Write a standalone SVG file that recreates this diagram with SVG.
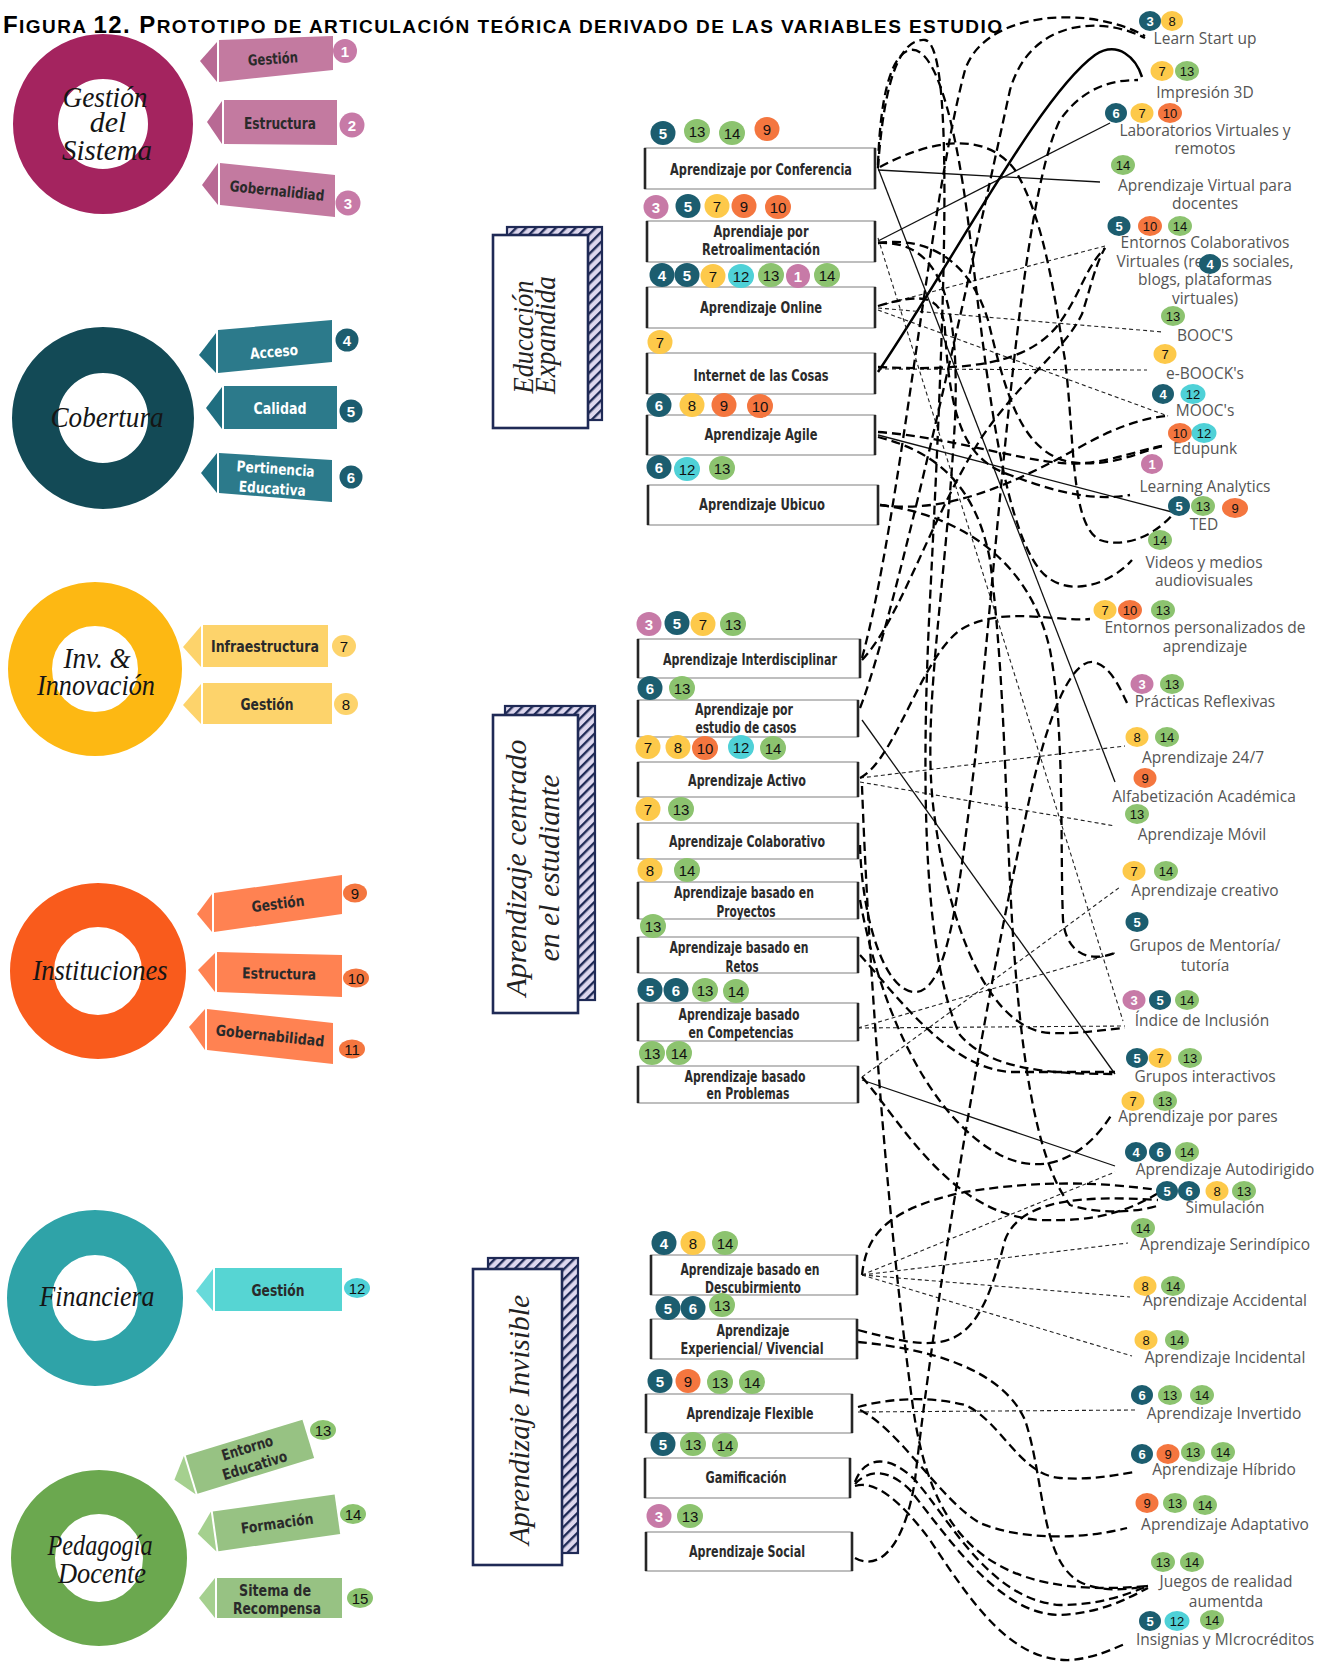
<svg xmlns="http://www.w3.org/2000/svg" width="1338" height="1665" viewBox="0 0 1338 1665">
<defs>
<pattern id="hatch" patternUnits="userSpaceOnUse" width="7" height="7" patternTransform="rotate(45)"><rect width="7" height="7" fill="#DDD7EE"/><rect width="2.4" height="7" fill="#1F2A56"/></pattern>
<style>
.title{font-family:"Liberation Sans",Arial,sans-serif;font-weight:bold;fill:#000}
.rt{font-family:"Liberation Serif","DejaVu Serif",serif;font-style:italic;font-size:30px;fill:#151515;text-anchor:middle}
.rb{font-family:"DejaVu Sans Condensed","DejaVu Sans",sans-serif;font-weight:bold;font-size:15px;fill:#2a2a2a;text-anchor:middle}
.rw{fill:#fff}
.bx{fill:#fff;stroke:#a9a9a9;stroke-width:1.5}
.be{stroke:#262626;stroke-width:2.6}
.bt{font-family:"DejaVu Sans Condensed","DejaVu Sans",sans-serif;font-weight:bold;font-size:15px;fill:#2b2b2b;text-anchor:middle}
.bk{font-family:"Liberation Serif","DejaVu Serif",serif;font-style:italic;font-size:30px;fill:#222;text-anchor:middle}
.lb{font-family:"Open Sans","DejaVu Sans",sans-serif;font-size:15.5px;fill:#555;text-anchor:middle}
.n text{font-family:"Liberation Sans",Arial,sans-serif;font-size:15px;text-anchor:middle;dominant-baseline:central}
.m text{font-size:13px}
.m ellipse{ry:10px}
.p{fill:#C77AA7}.t{fill:#1C5D6F}.y{fill:#FDC94A}.o{fill:#F4763F}.c{fill:#4FD1D7}.g{fill:#8CC36F}
.w{fill:#fff;font-weight:bold}.k{fill:#111}
.cs{fill:none;stroke:#111;stroke-width:1.3}
.ct{fill:none;stroke:#000;stroke-width:2.5}
.cd{fill:none;stroke:#000;stroke-width:2.3;stroke-dasharray:9 5}
.cf{fill:none;stroke:#222;stroke-width:1.1;stroke-dasharray:4 3}
.sh{stroke:#1F2A56;stroke-width:2.2}
</style>
</defs>
<rect width="1338" height="1665" fill="#fff"/>

<text class="title" x="3" y="33" font-size="19" textLength="999" lengthAdjust="spacing"><tspan font-size="24">F</tspan>IGURA <tspan font-size="24">12. P</tspan>ROTOTIPO DE ARTICULACIÓN TEÓRICA DERIVADO DE LAS VARIABLES ESTUDIO</text>

<g id="connectors">
<path class="cs" d="M878,170 L1100,182"/>
<path class="cs" d="M878,168 L1115,782"/>
<path class="cs" d="M878,241 L1110,123"/>
<path class="cs" d="M878,435 L1172,512"/>
<path class="cs" d="M862,720 L1115,1074"/>
<path class="cs" d="M862,1080 L1115,1166"/>
<path class="ct" d="M878,372 C960,250 1040,95 1095,55 C1118,40 1136,58 1142,77"/>
<path class="cf" d="M878,238 L1123,1021"/>
<path class="cf" d="M878,306 L1105,246"/>
<path class="cf" d="M878,308 L1163,332"/>
<path class="cf" d="M878,310 L1168,416"/>
<path class="cf" d="M878,369 L1147,370"/>
<path class="cf" d="M860,778 L1125,746"/>
<path class="cf" d="M860,782 L1115,826"/>
<path class="cf" d="M858,1028 L1125,1026"/>
<path class="cf" d="M858,1028 L1115,953"/>
<path class="cf" d="M862,1077 L1120,887"/>
<path class="cf" d="M862,1275 L1128,1243"/>
<path class="cf" d="M862,1275 L1130,1297"/>
<path class="cf" d="M862,1275 L1132,1356"/>
<path class="cf" d="M862,1275 L1115,1172"/>
<path class="cf" d="M858,1412 L1137,1410"/>
<path class="cd" d="M878,367 C980,372 1030,360 1058,325 C1080,296 1085,268 1105,248"/>
<path class="cd" d="M878,432 C960,438 1040,468 1085,463 C1115,460 1140,450 1162,446"/>
<path class="cd" d="M880,505 C950,515 1020,480 1080,447 C1110,430 1140,418 1167,416"/>
<path class="cd" d="M878,243 C930,236 970,262 988,320 C1005,390 1020,452 1070,462 C1110,468 1140,452 1162,446"/>
<path class="cd" d="M878,306 C925,292 942,296 945,330 C950,420 965,460 1010,475 C1050,490 1090,502 1130,495"/>
<path class="cd" d="M880,167 C930,140 985,130 1015,170 C1045,220 1055,300 1065,360 C1075,440 1070,525 1100,540 C1130,550 1160,530 1173,514"/>
<path class="cd" d="M878,165 C880,100 890,55 910,50 C935,45 955,120 968,220 C985,360 1000,520 1040,570 C1065,600 1110,585 1132,560"/>
<path class="cd" d="M862,658 C900,520 930,200 965,70 C985,10 1090,5 1145,36"/>
<path class="cd" d="M860,708 C895,620 975,250 1010,90 C1030,20 1100,15 1145,38"/>
<path class="cd" d="M860,845 C862,920 885,992 915,992 C950,992 960,880 975,760 C1000,520 1020,200 1060,120 C1085,85 1115,80 1138,80"/>
<path class="cd" d="M862,786 C868,950 885,1200 912,1400 C930,1540 990,1600 1148,1586"/>
<path class="cd" d="M860,778 C895,760 920,660 960,630 C1000,605 1055,622 1090,619"/>
<path class="cd" d="M862,660 C900,620 930,520 980,440 C1020,380 1065,350 1082,314 C1090,290 1095,265 1105,248"/>
<path class="cd" d="M860,900 C878,1000 925,1115 1000,1155 C1050,1180 1090,1150 1112,1114"/>
<path class="cd" d="M860,955 C900,1000 950,1068 1010,1072 L1115,1072"/>
<path class="cd" d="M862,1275 C866,1240 880,1210 965,1192 C1040,1180 1100,1182 1158,1190"/>
<path class="cd" d="M858,1330 C890,1338 915,1346 940,1342 C975,1336 990,1300 1005,1240 C1020,1200 1080,1195 1158,1200"/>
<path class="cd" d="M858,1342 C920,1348 1000,1365 1025,1420 C1045,1480 1040,1560 1080,1582 C1100,1592 1125,1590 1148,1586"/>
<path class="cd" d="M858,1407 C890,1398 930,1396 965,1405 C1000,1420 1020,1475 1060,1478 C1090,1480 1110,1476 1135,1472"/>
<path class="cd" d="M860,1410 C900,1430 940,1500 980,1523 C1020,1540 1080,1540 1127,1528"/>
<path class="cd" d="M855,1482 C865,1455 890,1455 915,1480 C950,1520 990,1600 1060,1605 C1100,1605 1125,1595 1148,1586"/>
<path class="cd" d="M855,1484 C870,1468 890,1470 910,1490 C950,1540 1000,1615 1060,1615 C1100,1613 1125,1600 1148,1588"/>
<path class="cd" d="M855,1486 C875,1480 900,1500 930,1540 C970,1600 1010,1662 1070,1660 C1095,1658 1110,1650 1127,1643"/>
<path class="cd" d="M855,1558 C880,1572 905,1545 915,1480 C935,1300 985,1000 1025,820 C1045,720 1070,660 1093,662 C1110,665 1120,688 1127,703"/>
<path class="cd" d="M878,168 C884,80 900,38 925,40 C955,45 945,300 930,600 C920,800 925,960 960,1035 C990,1070 1050,1074 1115,1074"/>
<path class="cd" d="M878,243 C940,240 960,300 955,420 C945,600 920,720 935,820 C950,930 990,1030 1050,1033 C1080,1034 1100,1030 1125,1028"/>
<path class="cd" d="M878,437 C930,450 975,480 990,560 C1005,680 1005,800 1012,920 C1020,1050 1035,1160 1070,1205 C1100,1215 1140,1212 1160,1205"/>
<path class="cd" d="M880,505 C960,515 1030,560 1050,650 C1065,730 1060,850 1063,920 C1066,950 1085,964 1115,953"/>
<path class="cd" d="M862,1077 C900,1120 950,1215 1040,1220 C1100,1222 1130,1210 1160,1192"/>
</g>

<g id="gestion-sistema">
<circle cx="103" cy="124" r="67.5" fill="none" stroke="#A4245F" stroke-width="45"/>
<text class="rt" x="105" y="107" textLength="85" lengthAdjust="spacingAndGlyphs">Gestión</text>
<text class="rt" x="108" y="132">del</text>
<text class="rt" x="107" y="160" textLength="90" lengthAdjust="spacingAndGlyphs">Sistema</text>
<g id="gs-gestion"><polygon points="200,61 217,42 217,82" fill="#B86994"/><polygon points="219,40 333,36 333,70 219,82" fill="#C37AA0"/><text class="rb" x="273" y="64" transform="rotate(-4 273 60)" textLength="50" lengthAdjust="spacingAndGlyphs">Gestión</text></g>
<g id="gs-estructura"><polygon points="207,122 222,101 222,144" fill="#B86994"/><polygon points="224,100 337,100 337,145 224,144" fill="#C37AA0"/><text class="rb" x="280" y="129" textLength="72" lengthAdjust="spacingAndGlyphs">Estructura</text></g>
<g id="gs-gobernalidiad"><polygon points="202,185 218,163 218,205" fill="#B86994"/><polygon points="220,163 335,175 335,217 220,205" fill="#C37AA0"/><text class="rb" x="277" y="196" transform="rotate(6 277 191)" textLength="95" lengthAdjust="spacingAndGlyphs">Gobernalidiad</text></g>
<g class="n"><circle class="p" cx="345" cy="51" r="12"/><text class="w" x="345" y="51">1</text><circle class="p" cx="352" cy="125" r="12.5"/><text class="w" x="352" y="125">2</text><circle class="p" cx="348" cy="203" r="12.5"/><text class="w" x="348" y="203">3</text></g>
</g>

<g id="cobertura">
<circle cx="103" cy="418" r="68" fill="none" stroke="#134A56" stroke-width="46"/>
<text class="rt" x="107" y="427" font-size="34" textLength="113" lengthAdjust="spacingAndGlyphs">Cobertura</text>
<g id="cb-acceso"><polygon points="199,355 216,333 216,373" fill="#1F6E80"/><polygon points="218,330 332,320 332,362 218,373" fill="#2C7A8B"/><text class="rb rw" x="274" y="357" transform="rotate(-5 274 352)" textLength="48" lengthAdjust="spacingAndGlyphs">Acceso</text></g>
<g id="cb-calidad"><polygon points="206,408 222,387 222,429" fill="#1F6E80"/><polygon points="224,386 337,386 337,429 224,429" fill="#2C7A8B"/><text class="rb rw" x="280" y="414" textLength="53" lengthAdjust="spacingAndGlyphs">Calidad</text></g>
<g id="cb-pertinencia"><polygon points="201,473 217,453 217,493" fill="#1F6E80"/><polygon points="219,453 332,460 332,502 219,493" fill="#2C7A8B"/><g transform="rotate(4 275 478)"><text class="rb rw" x="275" y="474" textLength="78" lengthAdjust="spacingAndGlyphs">Pertinencia</text><text class="rb rw" x="273" y="494" textLength="67" lengthAdjust="spacingAndGlyphs">Educativa</text></g></g>
<g class="n"><circle class="t" cx="347" cy="340" r="11.5"/><text class="w" x="347" y="340">4</text><circle class="t" cx="351" cy="411" r="11.5"/><text class="w" x="351" y="411">5</text><circle class="t" cx="351" cy="477" r="11.5"/><text class="w" x="351" y="477">6</text></g>
</g>

<g id="inv-innovacion">
<circle cx="95" cy="669" r="65" fill="none" stroke="#FDB813" stroke-width="44"/>
<text class="rt" x="97" y="668" textLength="67" lengthAdjust="spacingAndGlyphs">Inv. &amp;</text>
<text class="rt" x="96" y="695" textLength="118" lengthAdjust="spacingAndGlyphs">Innovación</text>
<g id="ii-infra"><polygon points="183,647 201,626 201,667" fill="#FDD36B"/><polygon points="203,625 328,625 328,667 203,667" fill="#FDD36B"/><text class="rb" x="265" y="652" textLength="108" lengthAdjust="spacingAndGlyphs">Infraestructura</text></g>
<g id="ii-gestion"><polygon points="183,705 201,684 201,724" fill="#FDD36B"/><polygon points="203,683 332,683 332,724 203,724" fill="#FDD36B"/><text class="rb" x="267" y="710" textLength="53" lengthAdjust="spacingAndGlyphs">Gestión</text></g>
<g class="n"><ellipse fill="#FDD36B" cx="344" cy="646" rx="12" ry="11"/><text class="k" x="344" y="646">7</text><ellipse fill="#FDD36B" cx="346" cy="704" rx="12" ry="11"/><text class="k" x="346" y="704">8</text></g>
</g>

<g id="instituciones">
<circle cx="98" cy="971" r="66" fill="none" stroke="#F95B1C" stroke-width="44"/>
<text class="rt" x="100" y="980" textLength="135" lengthAdjust="spacingAndGlyphs">Instituciones</text>
<g id="in-gestion"><polygon points="197,914 212,894 212,932" fill="#FF8252"/><polygon points="214,893 342,875 342,914 214,932" fill="#FF8252"/><text class="rb" x="278" y="909" transform="rotate(-7 278 904)" textLength="53" lengthAdjust="spacingAndGlyphs">Gestión</text></g>
<g id="in-estructura"><polygon points="198,970 215,953 215,992" fill="#FF8252"/><polygon points="217,952 342,955 342,997 217,992" fill="#FF8252"/><text class="rb" x="279" y="979" transform="rotate(1 279 974)" textLength="74" lengthAdjust="spacingAndGlyphs">Estructura</text></g>
<g id="in-gobernabilidad"><polygon points="189,1027 205,1009 205,1050" fill="#FF8252"/><polygon points="207,1009 333,1023 333,1064 207,1050" fill="#FF8252"/><text class="rb" x="270" y="1041" transform="rotate(6 270 1036)" textLength="109" lengthAdjust="spacingAndGlyphs">Gobernabilidad</text></g>
<g class="n"><ellipse class="o" cx="355" cy="893" rx="12" ry="9.5"/><text class="k" x="355" y="893" font-size="13">9</text><ellipse class="o" cx="356" cy="978" rx="13" ry="9.5"/><text class="k" x="356" y="978" font-size="13">10</text><ellipse class="o" cx="352" cy="1049" rx="13" ry="9.5"/><text class="k" x="352" y="1049" font-size="13">11</text></g>
</g>

<g id="financiera">
<circle cx="95" cy="1298" r="65.5" fill="none" stroke="#2FA3A8" stroke-width="45"/>
<text class="rt" x="97" y="1306" textLength="115" lengthAdjust="spacingAndGlyphs">Financiera</text>
<g id="fi-gestion"><polygon points="196,1291 213,1269 213,1311" fill="#67DADA"/><polygon points="215,1268 342,1268 342,1311 215,1311" fill="#56D5D3"/><text class="rb" x="278" y="1296" textLength="53" lengthAdjust="spacingAndGlyphs">Gestión</text></g>
<g class="n"><ellipse class="c" cx="357" cy="1288" rx="13" ry="10"/><text class="k" x="357" y="1288" font-size="14">12</text></g>
</g>

<g id="pedagogia-docente">
<circle cx="99" cy="1558" r="66" fill="none" stroke="#6BA84F" stroke-width="44"/>
<text class="rt" x="100" y="1555" textLength="105" lengthAdjust="spacingAndGlyphs">Pedagogía</text>
<text class="rt" x="102" y="1583" textLength="88" lengthAdjust="spacingAndGlyphs">Docente</text>
<g id="pd-entorno" transform="rotate(-17 249 1457)"><polygon points="171,1457 187,1437 187,1477" fill="#A5D08F"/><rect x="189" y="1437" width="122" height="40" fill="#97C283"/><text class="rb" x="250" y="1453" font-size="14" textLength="53" lengthAdjust="spacingAndGlyphs">Entorno</text><text class="rb" x="252" y="1472" font-size="14" textLength="67" lengthAdjust="spacingAndGlyphs">Educativo</text></g>
<g id="pd-formacion" transform="rotate(-8 275 1523)"><polygon points="197,1523 213,1503 213,1543" fill="#A5D08F"/><rect x="215" y="1503" width="123" height="40" fill="#97C283"/><text class="rb" x="277" y="1529" textLength="73" lengthAdjust="spacingAndGlyphs">Formación</text></g>
<g id="pd-recompensa"><polygon points="199,1598 215,1578 215,1618" fill="#A5D08F"/><polygon points="217,1578 342,1578 342,1618 217,1618" fill="#97C283"/><text class="rb" x="275" y="1596" font-size="14" textLength="72" lengthAdjust="spacingAndGlyphs">Sitema de</text><text class="rb" x="277" y="1614" font-size="14" textLength="88" lengthAdjust="spacingAndGlyphs">Recompensa</text></g>
<g class="n"><ellipse class="g" cx="323" cy="1430" rx="13" ry="10"/><text class="k" x="323" y="1430" font-size="13">13</text><ellipse class="g" cx="353" cy="1514" rx="13" ry="10"/><text class="k" x="353" y="1514" font-size="13">14</text><ellipse class="g" cx="360" cy="1598" rx="13" ry="10"/><text class="k" x="360" y="1598" font-size="13">15</text></g>
</g>

<g id="educacion-expandida">
<rect x="507" y="227" width="95" height="193" fill="url(#hatch)" class="sh"/>
<rect x="493" y="235" width="95" height="193" fill="#fff" stroke="#1F2A56" stroke-width="2.6"/>
<text class="bk" transform="translate(533,337) rotate(-90)" textLength="113" lengthAdjust="spacingAndGlyphs">Educación</text>
<text class="bk" transform="translate(555,335) rotate(-90)" textLength="118" lengthAdjust="spacingAndGlyphs">Expandida</text>
</g>
<g id="aprendizaje-centrado">
<rect x="505" y="706" width="90" height="294" fill="url(#hatch)" class="sh"/>
<rect x="493" y="715" width="85" height="298" fill="#fff" stroke="#1F2A56" stroke-width="2.6"/>
<text class="bk" transform="translate(526,868) rotate(-90)" textLength="257" lengthAdjust="spacingAndGlyphs">Aprendizaje centrado</text>
<text class="bk" transform="translate(559,868) rotate(-90)" textLength="187" lengthAdjust="spacingAndGlyphs">en el estudiante</text>
</g>
<g id="aprendizaje-invisible">
<rect x="488" y="1258" width="90" height="295" fill="url(#hatch)" class="sh"/>
<rect x="473" y="1269" width="89" height="296" fill="#fff" stroke="#1F2A56" stroke-width="2.6"/>
<text class="bk" transform="translate(529,1420) rotate(-90)" textLength="250" lengthAdjust="spacingAndGlyphs">Aprendizaje Invisible</text>
</g>

<g id="b-conferencia"><rect class="bx" x="645" y="148" width="230" height="41"/><path class="be" d="M645,148 V189 M875,148 V189"/><text class="bt" x="761" y="175" textLength="182" lengthAdjust="spacingAndGlyphs">Aprendizaje por Conferencia</text></g>
<g id="b-retro"><rect class="bx" x="647" y="221" width="228" height="41"/><path class="be" d="M647,221 V262 M875,221 V262"/><text class="bt" x="761" y="237" font-size="14" textLength="95" lengthAdjust="spacingAndGlyphs">Aprendiaje por</text><text class="bt" x="761" y="255" font-size="14" textLength="118" lengthAdjust="spacingAndGlyphs">Retroalimentación</text></g>
<g id="b-online"><rect class="bx" x="647" y="287" width="228" height="41"/><path class="be" d="M647,287 V328 M875,287 V328"/><text class="bt" x="761" y="313" textLength="122" lengthAdjust="spacingAndGlyphs">Aprendizaje Online</text></g>
<g id="b-iot"><rect class="bx" x="647" y="353" width="228" height="41"/><path class="be" d="M647,353 V394 M875,353 V394"/><text class="bt" x="761" y="381" textLength="135" lengthAdjust="spacingAndGlyphs">Internet de las Cosas</text></g>
<g id="b-agile"><rect class="bx" x="647" y="415" width="228" height="40"/><path class="be" d="M647,415 V455 M875,415 V455"/><text class="bt" x="761" y="440" textLength="113" lengthAdjust="spacingAndGlyphs">Aprendizaje Agile</text></g>
<g id="b-ubicuo"><rect class="bx" x="648" y="485" width="230" height="40"/><path class="be" d="M648,485 V525 M878,485 V525"/><text class="bt" x="762" y="510" textLength="126" lengthAdjust="spacingAndGlyphs">Aprendizaje Ubicuo</text></g>

<g id="c-interdisciplinar"><rect class="bx" x="638" y="639" width="222" height="39"/><path class="be" d="M638,639 V678 M860,639 V678"/><text class="bt" x="750" y="665" textLength="174" lengthAdjust="spacingAndGlyphs">Aprendizaje Interdisciplinar</text></g>
<g id="c-casos"><rect class="bx" x="638" y="700" width="220" height="37"/><path class="be" d="M638,700 V737 M858,700 V737"/><text class="bt" x="744" y="715" font-size="14" textLength="98" lengthAdjust="spacingAndGlyphs">Aprendizaje por</text><text class="bt" x="746" y="733" font-size="14" textLength="101" lengthAdjust="spacingAndGlyphs">estudio de casos</text></g>
<g id="c-activo"><rect class="bx" x="638" y="762" width="220" height="35"/><path class="be" d="M638,762 V797 M858,762 V797"/><text class="bt" x="747" y="786" textLength="118" lengthAdjust="spacingAndGlyphs">Aprendizaje Activo</text></g>
<g id="c-colaborativo"><rect class="bx" x="638" y="823" width="220" height="36"/><path class="be" d="M638,823 V859 M858,823 V859"/><text class="bt" x="747" y="847" textLength="156" lengthAdjust="spacingAndGlyphs">Aprendizaje Colaborativo</text></g>
<g id="c-proyectos"><rect class="bx" x="638" y="882" width="220" height="37"/><path class="be" d="M638,882 V919 M858,882 V919"/><text class="bt" x="744" y="898" font-size="14" textLength="140" lengthAdjust="spacingAndGlyphs">Aprendizaje basado en</text><text class="bt" x="746" y="917" font-size="14" textLength="59" lengthAdjust="spacingAndGlyphs">Proyectos</text></g>
<g id="c-retos"><rect class="bx" x="638" y="937" width="220" height="36"/><path class="be" d="M638,937 V973 M858,937 V973"/><text class="bt" x="739" y="953" font-size="14" textLength="139" lengthAdjust="spacingAndGlyphs">Aprendizaje basado en</text><text class="bt" x="742" y="972" font-size="14" textLength="33" lengthAdjust="spacingAndGlyphs">Retos</text></g>
<g id="c-competencias"><rect class="bx" x="638" y="1003" width="220" height="38"/><path class="be" d="M638,1003 V1041 M858,1003 V1041"/><text class="bt" x="739" y="1020" font-size="14" textLength="121" lengthAdjust="spacingAndGlyphs">Aprendizaje basado</text><text class="bt" x="741" y="1038" font-size="14" textLength="105" lengthAdjust="spacingAndGlyphs">en Competencias</text></g>
<g id="c-problemas"><rect class="bx" x="638" y="1066" width="220" height="37"/><path class="be" d="M638,1066 V1103 M858,1066 V1103"/><text class="bt" x="745" y="1082" font-size="14" textLength="121" lengthAdjust="spacingAndGlyphs">Aprendizaje basado</text><text class="bt" x="748" y="1099" font-size="14" textLength="83" lengthAdjust="spacingAndGlyphs">en Problemas</text></g>

<g id="d-descubrimiento"><rect class="bx" x="651" y="1255" width="206" height="40"/><path class="be" d="M651,1255 V1295 M857,1255 V1295"/><text class="bt" x="750" y="1275" font-size="14" textLength="139" lengthAdjust="spacingAndGlyphs">Aprendizaje basado en</text><text class="bt" x="753" y="1293" font-size="14" textLength="96" lengthAdjust="spacingAndGlyphs">Descubirmiento</text></g>
<g id="d-experiencial"><rect class="bx" x="651" y="1319" width="206" height="40"/><path class="be" d="M651,1319 V1359 M857,1319 V1359"/><text class="bt" x="753" y="1336" font-size="14" textLength="73" lengthAdjust="spacingAndGlyphs">Aprendizaje</text><text class="bt" x="752" y="1354" font-size="14" textLength="143" lengthAdjust="spacingAndGlyphs">Experiencial/ Vivencial</text></g>
<g id="d-flexible"><rect class="bx" x="646" y="1394" width="206" height="39"/><path class="be" d="M646,1394 V1433 M852,1394 V1433"/><text class="bt" x="750" y="1419" textLength="127" lengthAdjust="spacingAndGlyphs">Aprendizaje Flexible</text></g>
<g id="d-gamificacion"><rect class="bx" x="645" y="1458" width="205" height="40"/><path class="be" d="M645,1458 V1498 M850,1458 V1498"/><text class="bt" x="746" y="1483" textLength="81" lengthAdjust="spacingAndGlyphs">Gamificación</text></g>
<g id="d-social"><rect class="bx" x="646" y="1532" width="206" height="39"/><path class="be" d="M646,1532 V1571 M852,1532 V1571"/><text class="bt" x="747" y="1557" textLength="116" lengthAdjust="spacingAndGlyphs">Aprendizaje Social</text></g>

<g id="middle-badges" class="n">
<ellipse class="t" cx="663" cy="133" rx="12.5" ry="12"/><text class="w" x="663" y="133">5</text>
<ellipse class="g" cx="697" cy="131" rx="13" ry="12"/><text class="k" x="697" y="131">13</text>
<ellipse class="g" cx="732" cy="133" rx="13" ry="12"/><text class="k" x="732" y="133">14</text>
<ellipse class="o" cx="767" cy="129" rx="12.5" ry="12"/><text class="k" x="767" y="129">9</text>

<ellipse class="p" cx="656" cy="207" rx="12.5" ry="12"/><text class="w" x="656" y="207">3</text>
<ellipse class="t" cx="688" cy="206" rx="12.5" ry="12"/><text class="w" x="688" y="206">5</text>
<ellipse class="y" cx="717" cy="206" rx="12.5" ry="12"/><text class="k" x="717" y="206">7</text>
<ellipse class="o" cx="744" cy="206" rx="12.5" ry="12"/><text class="k" x="744" y="206">9</text>
<ellipse class="o" cx="778" cy="207" rx="13" ry="12"/><text class="k" x="778" y="207">10</text>

<ellipse class="t" cx="662" cy="275" rx="12.5" ry="12"/><text class="w" x="662" y="275">4</text>
<ellipse class="t" cx="687" cy="275" rx="12.5" ry="12"/><text class="w" x="687" y="275">5</text>
<ellipse class="y" cx="713" cy="276" rx="12.5" ry="12"/><text class="k" x="713" y="276">7</text>
<ellipse class="c" cx="741" cy="276" rx="13" ry="12"/><text class="k" x="741" y="276">12</text>
<ellipse class="g" cx="771" cy="275" rx="13" ry="12"/><text class="k" x="771" y="275">13</text>
<ellipse class="p" cx="798" cy="276" rx="12" ry="12"/><text class="w" x="798" y="276">1</text>
<ellipse class="g" cx="827" cy="275" rx="13" ry="12"/><text class="k" x="827" y="275">14</text>

<ellipse class="y" cx="660" cy="342" rx="12.5" ry="12"/><text class="k" x="660" y="342">7</text>

<ellipse class="t" cx="659" cy="405" rx="12.5" ry="12"/><text class="w" x="659" y="405">6</text>
<ellipse class="y" cx="692" cy="405" rx="12.5" ry="12"/><text class="k" x="692" y="405">8</text>
<ellipse class="o" cx="724" cy="405" rx="12.5" ry="12"/><text class="k" x="724" y="405">9</text>
<ellipse class="o" cx="760" cy="406" rx="13" ry="12"/><text class="k" x="760" y="406">10</text>

<ellipse class="t" cx="659" cy="467" rx="12.5" ry="12"/><text class="w" x="659" y="467">6</text>
<ellipse class="c" cx="687" cy="469" rx="13" ry="12"/><text class="k" x="687" y="469">12</text>
<ellipse class="g" cx="722" cy="468" rx="13" ry="12"/><text class="k" x="722" y="468">13</text>

<ellipse class="p" cx="649" cy="624" rx="12.5" ry="12"/><text class="w" x="649" y="624">3</text>
<ellipse class="t" cx="677" cy="623" rx="12.5" ry="12"/><text class="w" x="677" y="623">5</text>
<ellipse class="y" cx="703" cy="624" rx="12.5" ry="12"/><text class="k" x="703" y="624">7</text>
<ellipse class="g" cx="733" cy="624" rx="13" ry="12"/><text class="k" x="733" y="624">13</text>

<ellipse class="t" cx="650" cy="688" rx="12.5" ry="12"/><text class="w" x="650" y="688">6</text>
<ellipse class="g" cx="682" cy="688" rx="13" ry="12"/><text class="k" x="682" y="688">13</text>

<ellipse class="y" cx="648" cy="747" rx="12.5" ry="12"/><text class="k" x="648" y="747">7</text>
<ellipse class="y" cx="678" cy="747" rx="12.5" ry="12"/><text class="k" x="678" y="747">8</text>
<ellipse class="o" cx="705" cy="748" rx="13" ry="12"/><text class="k" x="705" y="748">10</text>
<ellipse class="c" cx="741" cy="747" rx="13" ry="12"/><text class="k" x="741" y="747">12</text>
<ellipse class="g" cx="773" cy="748" rx="13" ry="12"/><text class="k" x="773" y="748">14</text>

<ellipse class="y" cx="648" cy="809" rx="12.5" ry="12"/><text class="k" x="648" y="809">7</text>
<ellipse class="g" cx="681" cy="809" rx="13" ry="12"/><text class="k" x="681" y="809">13</text>

<ellipse class="y" cx="650" cy="870" rx="12.5" ry="12"/><text class="k" x="650" y="870">8</text>
<ellipse class="g" cx="687" cy="870" rx="13" ry="12"/><text class="k" x="687" y="870">14</text>

<ellipse class="g" cx="653" cy="926" rx="13" ry="12"/><text class="k" x="653" y="926">13</text>

<ellipse class="t" cx="650" cy="990" rx="12.5" ry="12"/><text class="w" x="650" y="990">5</text>
<ellipse class="t" cx="676" cy="990" rx="12.5" ry="12"/><text class="w" x="676" y="990">6</text>
<ellipse class="g" cx="705" cy="990" rx="13" ry="12"/><text class="k" x="705" y="990">13</text>
<ellipse class="g" cx="736" cy="991" rx="13" ry="12"/><text class="k" x="736" y="991">14</text>

<ellipse class="g" cx="652" cy="1053" rx="13" ry="12"/><text class="k" x="652" y="1053">13</text>
<ellipse class="g" cx="679" cy="1053" rx="13" ry="12"/><text class="k" x="679" y="1053">14</text>

<ellipse class="t" cx="664" cy="1243" rx="12.5" ry="12"/><text class="w" x="664" y="1243">4</text>
<ellipse class="y" cx="693" cy="1243" rx="12.5" ry="12"/><text class="k" x="693" y="1243">8</text>
<ellipse class="g" cx="725" cy="1243" rx="13" ry="12"/><text class="k" x="725" y="1243">14</text>

<ellipse class="t" cx="668" cy="1308" rx="12.5" ry="12"/><text class="w" x="668" y="1308">5</text>
<ellipse class="t" cx="693" cy="1308" rx="12.5" ry="12"/><text class="w" x="693" y="1308">6</text>
<ellipse class="g" cx="722" cy="1305" rx="13" ry="12"/><text class="k" x="722" y="1305">13</text>

<ellipse class="t" cx="660" cy="1381" rx="12.5" ry="12"/><text class="w" x="660" y="1381">5</text>
<ellipse class="o" cx="688" cy="1381" rx="12.5" ry="12"/><text class="k" x="688" y="1381">9</text>
<ellipse class="g" cx="720" cy="1382" rx="13" ry="12"/><text class="k" x="720" y="1382">13</text>
<ellipse class="g" cx="752" cy="1382" rx="13" ry="12"/><text class="k" x="752" y="1382">14</text>

<ellipse class="t" cx="663" cy="1444" rx="12.5" ry="12"/><text class="w" x="663" y="1444">5</text>
<ellipse class="g" cx="693" cy="1444" rx="13" ry="12"/><text class="k" x="693" y="1444">13</text>
<ellipse class="g" cx="725" cy="1445" rx="13" ry="12"/><text class="k" x="725" y="1445">14</text>

<ellipse class="p" cx="659" cy="1516" rx="12.5" ry="12"/><text class="w" x="659" y="1516">3</text>
<ellipse class="g" cx="690" cy="1516" rx="13" ry="12"/><text class="k" x="690" y="1516">13</text>
</g>

<g id="r-learn"><text class="lb" x="1205" y="44">Learn Start up</text></g>
<g id="r-impresion"><text class="lb" x="1205" y="98">Impresión 3D</text></g>
<g id="r-laboratorios"><text class="lb" x="1205" y="136">Laboratorios Virtuales y</text><text class="lb" x="1205" y="154">remotos</text></g>
<g id="r-virtual"><text class="lb" x="1205" y="191">Aprendizaje Virtual para</text><text class="lb" x="1205" y="209">docentes</text></g>
<g id="r-entornos"><text class="lb" x="1205" y="248">Entornos Colaborativos</text><text class="lb" x="1205" y="267">Virtuales (redes sociales,</text><text class="lb" x="1205" y="285">blogs, plataformas</text><text class="lb" x="1205" y="304">virtuales)</text></g>
<g id="r-booc"><text class="lb" x="1205" y="341">BOOC'S</text></g>
<g id="r-ebook"><text class="lb" x="1205" y="379">e-BOOCK's</text></g>
<g id="r-mooc"><text class="lb" x="1205" y="416">MOOC's</text></g>
<g id="r-edupunk"><text class="lb" x="1205" y="454">Edupunk</text></g>
<g id="r-analytics"><text class="lb" x="1205" y="492">Learning Analytics</text></g>
<g id="r-ted"><text class="lb" x="1204" y="530">TED</text></g>
<g id="r-videos"><text class="lb" x="1204" y="568">Videos y medios</text><text class="lb" x="1204" y="586">audiovisuales</text></g>
<g id="r-personalizados"><text class="lb" x="1205" y="633">Entornos personalizados de</text><text class="lb" x="1205" y="652">aprendizaje</text></g>
<g id="r-practicas"><text class="lb" x="1205" y="707">Prácticas Reflexivas</text></g>
<g id="r-247"><text class="lb" x="1203" y="763">Aprendizaje 24/7</text></g>
<g id="r-alfabetizacion"><text class="lb" x="1204" y="802">Alfabetización Académica</text></g>
<g id="r-movil"><text class="lb" x="1202" y="840">Aprendizaje Móvil</text></g>
<g id="r-creativo"><text class="lb" x="1205" y="896">Aprendizaje creativo</text></g>
<g id="r-mentoria"><text class="lb" x="1205" y="951">Grupos de Mentoría/</text><text class="lb" x="1205" y="971">tutoría</text></g>
<g id="r-inclusion"><text class="lb" x="1202" y="1026">Índice de Inclusión</text></g>
<g id="r-interactivos"><text class="lb" x="1205" y="1082">Grupos interactivos</text></g>
<g id="r-pares"><text class="lb" x="1198" y="1122">Aprendizaje por pares</text></g>
<g id="r-autodirigido"><text class="lb" x="1225" y="1175">Aprendizaje Autodirigido</text></g>
<g id="r-simulacion"><text class="lb" x="1225" y="1213">Simulación</text></g>
<g id="r-serindipico"><text class="lb" x="1225" y="1250">Aprendizaje Serindípico</text></g>
<g id="r-accidental"><text class="lb" x="1225" y="1306">Aprendizaje Accidental</text></g>
<g id="r-incidental"><text class="lb" x="1225" y="1363">Aprendizaje Incidental</text></g>
<g id="r-invertido"><text class="lb" x="1224" y="1419">Aprendizaje Invertido</text></g>
<g id="r-hibrido"><text class="lb" x="1224" y="1475">Aprendizaje Híbrido</text></g>
<g id="r-adaptativo"><text class="lb" x="1225" y="1530">Aprendizaje Adaptativo</text></g>
<g id="r-juegos"><text class="lb" x="1226" y="1587">Juegos de realidad</text><text class="lb" x="1226" y="1607">aumentda</text></g>
<g id="r-insignias"><text class="lb" x="1225" y="1645">Insignias y MIcrocréditos</text></g>

<g id="right-badges" class="n m">
<ellipse class="t" cx="1150" cy="21" rx="11" ry="10"/><text class="w" x="1150" y="21">3</text>
<ellipse class="y" cx="1172" cy="21" rx="11" ry="10"/><text class="k" x="1172" y="21">8</text>
<ellipse class="y" cx="1162" cy="71" rx="11.5" ry="10"/><text class="k" x="1162" y="71">7</text>
<ellipse class="g" cx="1187" cy="71" rx="12" ry="10"/><text class="k" x="1187" y="71">13</text>
<ellipse class="t" cx="1116" cy="113" rx="11" ry="10"/><text class="w" x="1116" y="113">6</text>
<ellipse class="y" cx="1142" cy="113" rx="11.5" ry="10"/><text class="k" x="1142" y="113">7</text>
<ellipse class="o" cx="1170" cy="113" rx="12" ry="10"/><text class="k" x="1170" y="113">10</text>
<ellipse class="g" cx="1123" cy="165" rx="12" ry="10"/><text class="k" x="1123" y="165">14</text>
<ellipse class="t" cx="1119" cy="226" rx="11.5" ry="10"/><text class="w" x="1119" y="226">5</text>
<ellipse class="o" cx="1150" cy="226" rx="12" ry="10"/><text class="k" x="1150" y="226">10</text>
<ellipse class="g" cx="1180" cy="226" rx="12" ry="10"/><text class="k" x="1180" y="226">14</text>
<ellipse class="t" cx="1210" cy="264" rx="11" ry="11"/><text class="w" x="1210" y="264">4</text>
<ellipse class="g" cx="1173" cy="316" rx="12" ry="10"/><text class="k" x="1173" y="316">13</text>
<ellipse class="y" cx="1165" cy="354" rx="11.5" ry="10"/><text class="k" x="1165" y="354">7</text>
<ellipse class="t" cx="1163" cy="394" rx="11" ry="10"/><text class="w" x="1163" y="394">4</text>
<ellipse class="c" cx="1193" cy="394" rx="12.5" ry="10"/><text class="k" x="1193" y="394">12</text>
<ellipse class="o" cx="1180" cy="433" rx="12" ry="10"/><text class="k" x="1180" y="433">10</text>
<ellipse class="c" cx="1204" cy="433" rx="12.5" ry="10"/><text class="k" x="1204" y="433">12</text>
<ellipse class="p" cx="1152" cy="464" rx="11" ry="10"/><text class="w" x="1152" y="464">1</text>
<ellipse class="t" cx="1179" cy="506" rx="11" ry="10"/><text class="w" x="1179" y="506">5</text>
<ellipse class="g" cx="1203" cy="506" rx="12" ry="10"/><text class="k" x="1203" y="506">13</text>
<ellipse class="o" cx="1235" cy="508" rx="13" ry="11.5"/><text class="k" x="1235" y="508">9</text>
<ellipse class="g" cx="1160" cy="540" rx="12" ry="10"/><text class="k" x="1160" y="540">14</text>
<ellipse class="y" cx="1105" cy="610" rx="11.5" ry="10"/><text class="k" x="1105" y="610">7</text>
<ellipse class="o" cx="1130" cy="610" rx="12" ry="10"/><text class="k" x="1130" y="610">10</text>
<ellipse class="g" cx="1163" cy="610" rx="12" ry="10"/><text class="k" x="1163" y="610">13</text>
<ellipse class="p" cx="1142" cy="684" rx="11.5" ry="10"/><text class="w" x="1142" y="684">3</text>
<ellipse class="g" cx="1172" cy="684" rx="12" ry="10"/><text class="k" x="1172" y="684">13</text>
<ellipse class="y" cx="1137" cy="737" rx="11.5" ry="10"/><text class="k" x="1137" y="737">8</text>
<ellipse class="g" cx="1167" cy="737" rx="12" ry="10"/><text class="k" x="1167" y="737">14</text>
<ellipse class="o" cx="1145" cy="778" rx="11.5" ry="9.5"/><text class="k" x="1145" y="778">9</text>
<ellipse class="g" cx="1137" cy="814" rx="12" ry="10"/><text class="k" x="1137" y="814">13</text>
<ellipse class="y" cx="1134" cy="871" rx="11.5" ry="10"/><text class="k" x="1134" y="871">7</text>
<ellipse class="g" cx="1166" cy="871" rx="12" ry="10"/><text class="k" x="1166" y="871">14</text>
<ellipse class="t" cx="1137" cy="922" rx="11.5" ry="10"/><text class="w" x="1137" y="922">5</text>
<ellipse class="p" cx="1134" cy="1000" rx="11.5" ry="10"/><text class="w" x="1134" y="1000">3</text>
<ellipse class="t" cx="1160" cy="1000" rx="11" ry="10"/><text class="w" x="1160" y="1000">5</text>
<ellipse class="g" cx="1187" cy="1000" rx="12" ry="10"/><text class="k" x="1187" y="1000">14</text>
<ellipse class="t" cx="1137" cy="1058" rx="11" ry="10"/><text class="w" x="1137" y="1058">5</text>
<ellipse class="y" cx="1160" cy="1058" rx="11.5" ry="10"/><text class="k" x="1160" y="1058">7</text>
<ellipse class="g" cx="1190" cy="1058" rx="12" ry="10"/><text class="k" x="1190" y="1058">13</text>
<ellipse class="y" cx="1133" cy="1101" rx="11.5" ry="10"/><text class="k" x="1133" y="1101">7</text>
<ellipse class="g" cx="1165" cy="1101" rx="12" ry="10"/><text class="k" x="1165" y="1101">13</text>
<ellipse class="t" cx="1136" cy="1152" rx="11" ry="10"/><text class="w" x="1136" y="1152">4</text>
<ellipse class="t" cx="1160" cy="1152" rx="11" ry="10"/><text class="w" x="1160" y="1152">6</text>
<ellipse class="g" cx="1187" cy="1152" rx="12" ry="10"/><text class="k" x="1187" y="1152">14</text>
<ellipse class="t" cx="1167" cy="1191" rx="11" ry="9.5"/><text class="w" x="1167" y="1191">5</text>
<ellipse class="t" cx="1189" cy="1191" rx="11" ry="9.5"/><text class="w" x="1189" y="1191">6</text>
<ellipse class="y" cx="1217" cy="1191" rx="11.5" ry="9.5"/><text class="k" x="1217" y="1191">8</text>
<ellipse class="g" cx="1244" cy="1191" rx="12" ry="9.5"/><text class="k" x="1244" y="1191">13</text>
<ellipse class="g" cx="1143" cy="1228" rx="12" ry="10"/><text class="k" x="1143" y="1228">14</text>
<ellipse class="y" cx="1145" cy="1286" rx="11.5" ry="10"/><text class="k" x="1145" y="1286">8</text>
<ellipse class="g" cx="1173" cy="1286" rx="12" ry="10"/><text class="k" x="1173" y="1286">14</text>
<ellipse class="y" cx="1146" cy="1340" rx="11.5" ry="10"/><text class="k" x="1146" y="1340">8</text>
<ellipse class="g" cx="1177" cy="1340" rx="12" ry="10"/><text class="k" x="1177" y="1340">14</text>
<ellipse class="t" cx="1142" cy="1395" rx="11" ry="10.5"/><text class="w" x="1142" y="1395">6</text>
<ellipse class="g" cx="1170" cy="1395" rx="12" ry="10"/><text class="k" x="1170" y="1395">13</text>
<ellipse class="g" cx="1202" cy="1395" rx="12" ry="10"/><text class="k" x="1202" y="1395">14</text>
<ellipse class="t" cx="1142" cy="1454" rx="11" ry="10.5"/><text class="w" x="1142" y="1454">6</text>
<ellipse class="o" cx="1168" cy="1454" rx="11.5" ry="10"/><text class="k" x="1168" y="1454">9</text>
<ellipse class="g" cx="1193" cy="1452" rx="12" ry="10"/><text class="k" x="1193" y="1452">13</text>
<ellipse class="g" cx="1223" cy="1452" rx="12" ry="10"/><text class="k" x="1223" y="1452">14</text>
<ellipse class="o" cx="1147" cy="1503" rx="11.5" ry="10"/><text class="k" x="1147" y="1503">9</text>
<ellipse class="g" cx="1175" cy="1503" rx="12" ry="10"/><text class="k" x="1175" y="1503">13</text>
<ellipse class="g" cx="1205" cy="1505" rx="12" ry="10"/><text class="k" x="1205" y="1505">14</text>
<ellipse class="g" cx="1163" cy="1562" rx="12" ry="10"/><text class="k" x="1163" y="1562">13</text>
<ellipse class="g" cx="1192" cy="1562" rx="12" ry="10"/><text class="k" x="1192" y="1562">14</text>
<ellipse class="t" cx="1150" cy="1621" rx="11" ry="10"/><text class="w" x="1150" y="1621">5</text>
<ellipse class="c" cx="1177" cy="1621" rx="12.5" ry="10"/><text class="k" x="1177" y="1621">12</text>
<ellipse class="g" cx="1212" cy="1620" rx="12" ry="10"/><text class="k" x="1212" y="1620">14</text>
</g>
</svg>
